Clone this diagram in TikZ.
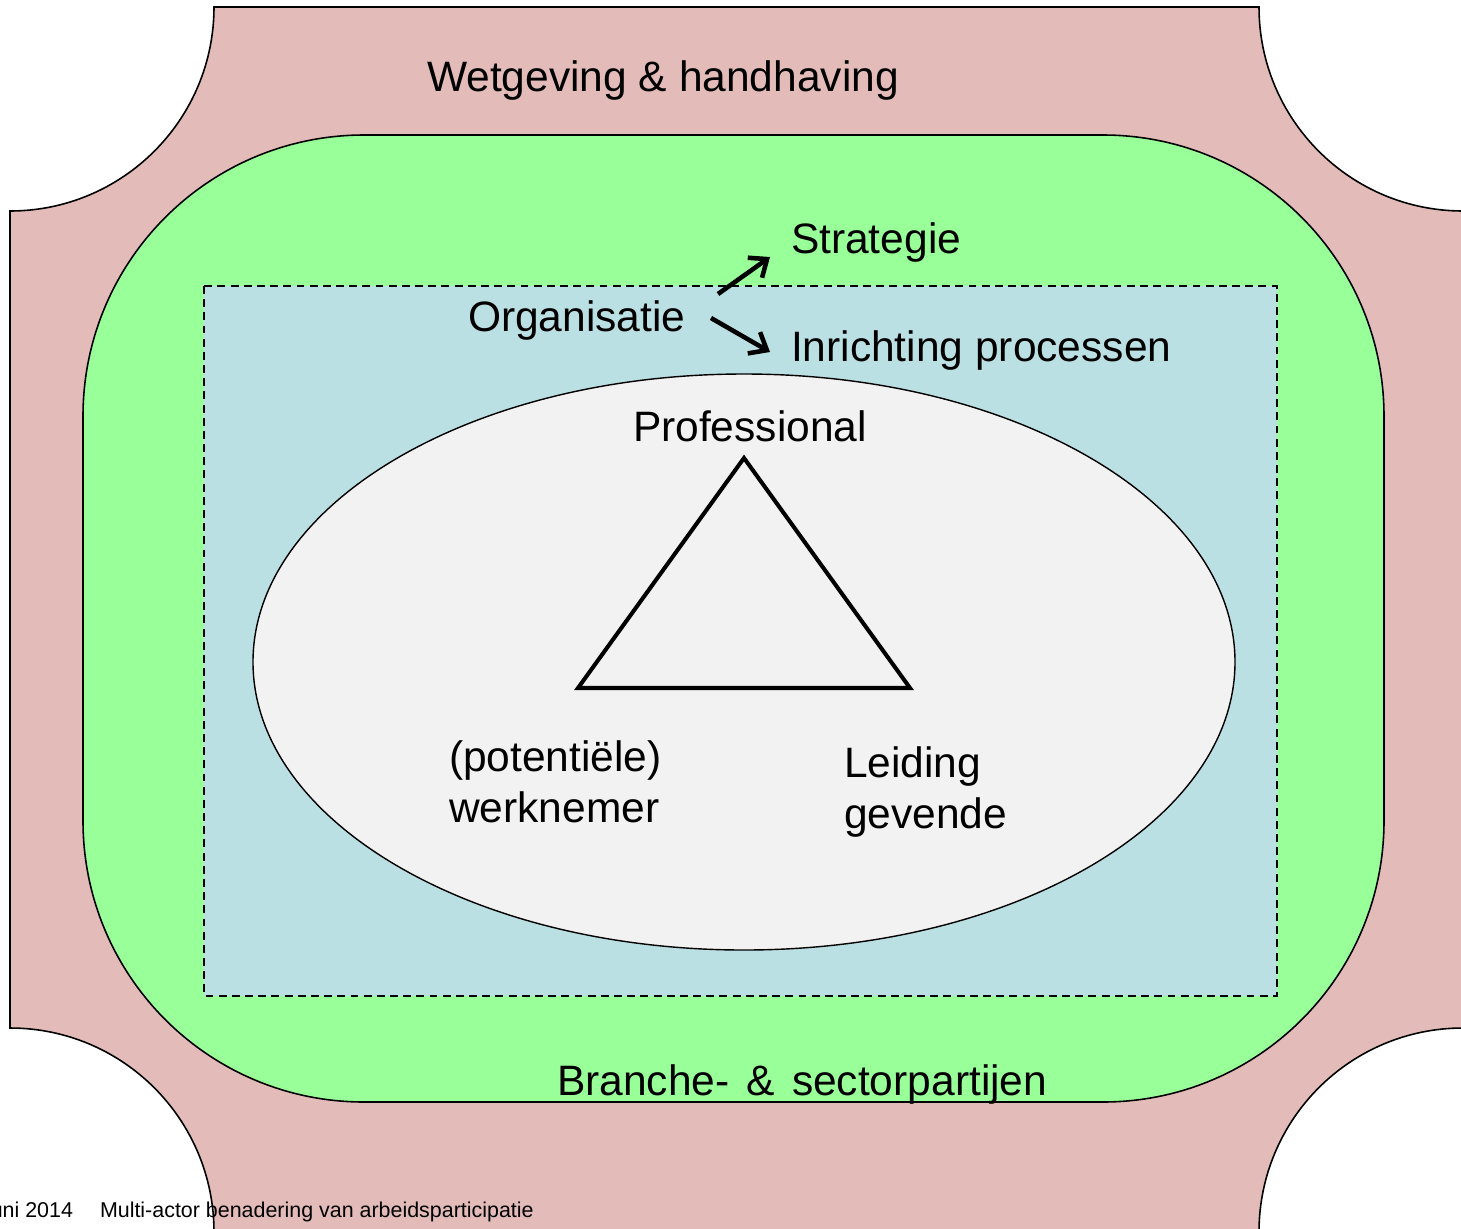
\documentclass[tikz,border=0pt]{standalone}
\usepackage{fontspec}
\setmainfont{Liberation Sans}
\usetikzlibrary{arrows.meta}
\definecolor{pinkbg}{HTML}{E3BCB9}
\definecolor{greenbg}{HTML}{99FF99}
\definecolor{bluebg}{HTML}{BBE0E3}
\definecolor{ellbg}{HTML}{F2F2F2}
\tikzset{
  big/.style={inner sep=0pt, outer sep=0pt, font=\fontsize{24.2}{28.5}\selectfont},
  small/.style={inner sep=0pt, outer sep=0pt, font=\fontsize{12.2}{14}\selectfont},
  outline/.style={draw=black, line width=0.9pt},
  arr/.style={-{Straight Barb[length=8.5pt,width=14pt]}, line width=2.6pt},
}
\begin{document}
\begin{tikzpicture}[x=0.02cm,y=0.02cm]
\useasboundingbox (0,0) rectangle (1461,-1228);
% outer plaque
\path[outline, fill=pinkbg]
  (214,-7) -- (1259,-7) arc[start angle=180,end angle=270,radius=204]
  -- (1463,-1028) arc[start angle=90,end angle=180,radius=204]
  -- (214,-1232) arc[start angle=0,end angle=90,radius=204]
  -- (10,-211) arc[start angle=270,end angle=360,radius=204] -- cycle;
% green rounded rectangle
\draw[outline, fill=greenbg, rounded corners=160] (83,-135) rectangle (1384,-1102);
% dashed blue rectangle
\draw[fill=bluebg, line width=0.7pt, dash pattern=on 4.5pt off 3pt] (204,-286) rectangle (1277,-996);
% ellipse
\draw[fill=ellbg, line width=0.8pt] (744,-662) ellipse[x radius=491, y radius=288];
% triangle
\draw[line width=2.3pt] (744,-458) -- (578,-688) -- (910,-688) -- cycle;
% texts
\node[big, anchor=base west] (wet) at (427,-91) {Wetgeving \& handhaving};
\node[big, anchor=base west] (strat) at (791,-253) {Strategie};
\node[big, anchor=base west] (org) at (468,-331) {Organisatie};
\node[big, anchor=base west] (inr) at (791,-361) {Inrichting processen};
\node[big, anchor=base west] (prof) at (633,-441) {Professional};
\node[big, anchor=base west, align=left] (werk) at (449,-822) {(potentiële)\\werknemer};
\node[big, anchor=base west, align=left] (leid) at (844,-828) {Leiding\\gevende};
\node[big, anchor=base west] (bran) at (557,-1095) {Branche-\hspace{3pt} \&\hspace{3pt} sectorpartijen};
\node[small, anchor=base east] (date) at (73,-1217) {Juni 2014};
\node[small, anchor=base west] (foot) at (100,-1217) {Multi-actor benadering van arbeidsparticipatie};
% arrows
\coordinate (a1s) at (718,-294);
\coordinate (a1e) at (770,-257);
\coordinate (a2s) at (711,-318);
\coordinate (a2e) at (770,-352);
\draw[arr] (a1s) -- (a1e);
\draw[arr] (a2s) -- (a2e);
\end{tikzpicture}
\end{document}
